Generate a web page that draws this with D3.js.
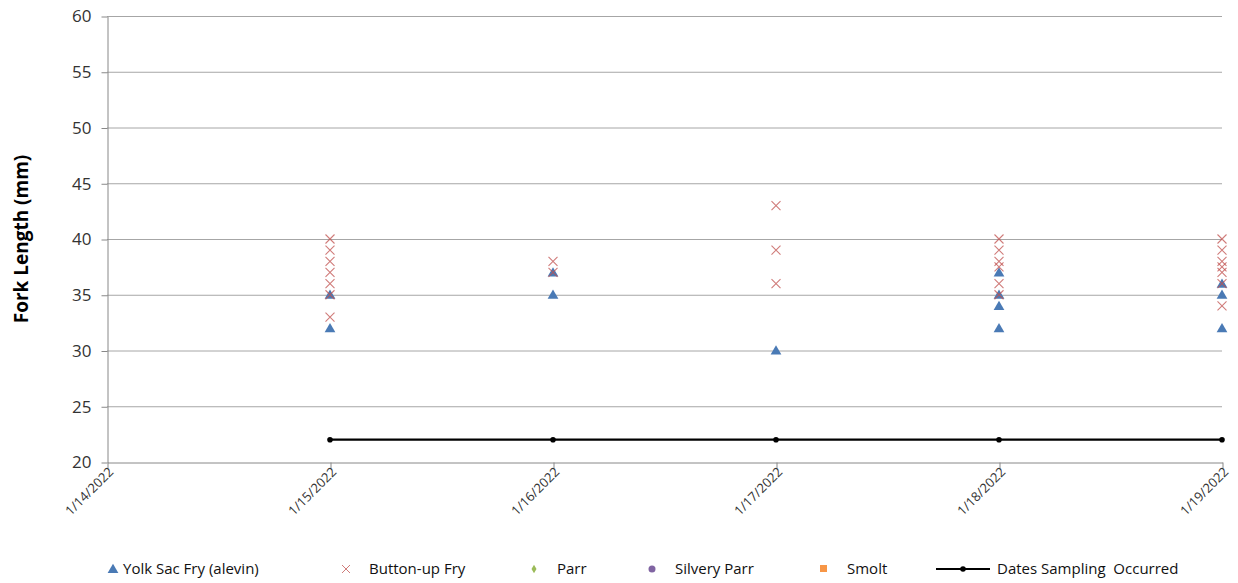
<!DOCTYPE html>
<html>
<head>
<meta charset="utf-8">
<script src="https://cdn.jsdelivr.net/npm/d3@7"></script>
<style>
  body { margin: 0; background: #fff; }
  text { font-family: "Open Sans", "DejaVu Sans", sans-serif; }
</style>
</head>
<body>
<div id="chart"></div>
<script>
// dates on the x axis
const tickDates = ["2022-01-14", "2022-01-15", "2022-01-16", "2022-01-17", "2022-01-18", "2022-01-19"];
const yTicks = [20, 25, 30, 35, 40, 45, 50, 55, 60];

// Yolk Sac Fry (alevin)
const yolkSac = [
  ["2022-01-15", 35], ["2022-01-15", 32],
  ["2022-01-16", 37], ["2022-01-16", 35],
  ["2022-01-17", 30],
  ["2022-01-18", 37], ["2022-01-18", 35], ["2022-01-18", 34], ["2022-01-18", 32],
  ["2022-01-19", 36], ["2022-01-19", 35], ["2022-01-19", 32]
];

// Button-up Fry
const buttonUp = [
  ["2022-01-15", 40], ["2022-01-15", 39], ["2022-01-15", 38], ["2022-01-15", 37],
  ["2022-01-15", 36], ["2022-01-15", 35], ["2022-01-15", 33],
  ["2022-01-16", 38], ["2022-01-16", 37],
  ["2022-01-17", 43], ["2022-01-17", 39], ["2022-01-17", 36],
  ["2022-01-18", 40], ["2022-01-18", 39], ["2022-01-18", 38], ["2022-01-18", 37.5],
  ["2022-01-18", 36], ["2022-01-18", 35],
  ["2022-01-19", 40], ["2022-01-19", 39], ["2022-01-19", 38], ["2022-01-19", 37.5],
  ["2022-01-19", 37], ["2022-01-19", 36], ["2022-01-19", 34]
];

const parr = [];
const silveryParr = [];
const smolt = [];

// Dates Sampling Occurred
const sampling = [
  ["2022-01-15", 22], ["2022-01-16", 22], ["2022-01-17", 22], ["2022-01-18", 22], ["2022-01-19", 22]
];

const W = 1238, H = 583;
const parse = d3.timeParse("%Y-%m-%d");
const fmt = d3.timeFormat("%-m/%-d/%Y");

const svg = d3.select("#chart").append("svg")
  .attr("width", W).attr("height", H);

const x = d3.scaleTime()
  .domain([parse(tickDates[0]), parse(tickDates[tickDates.length - 1])])
  .range([107, 1222]);
const y = d3.scaleLinear().domain([20, 60]).range([462, 16]);

// gridlines
svg.append("g")
  .selectAll("line")
  .data(yTicks.filter(d => d > 20))
  .enter().append("line")
  .attr("x1", 107).attr("x2", 1222)
  .attr("y1", d => y(d) + 0.5).attr("y2", d => y(d) + 0.5)
  .attr("stroke", "#a6a6a6").attr("stroke-width", 1);

// y axis
const yAxis = svg.append("g")
  .attr("transform", "translate(107.5,0.5)")
  .call(d3.axisLeft(y).tickValues(yTicks).tickSize(6).tickSizeOuter(0));
yAxis.select(".domain").attr("stroke", "#888");
yAxis.selectAll(".tick line").attr("stroke", "#888");
yAxis.selectAll(".tick text").attr("font-size", 17).attr("fill", "#333").attr("x", -16);

// x axis
const xAxis = svg.append("g")
  .attr("transform", "translate(0.5,462.5)")
  .call(d3.axisBottom(x).tickValues(tickDates.map(parse)).tickFormat(fmt).tickSize(6).tickSizeOuter(0));
xAxis.select(".domain").attr("stroke", "#888");
xAxis.selectAll(".tick line").attr("stroke", "#888");
xAxis.selectAll(".tick text")
  .attr("font-size", 13).attr("fill", "#333")
  .attr("text-anchor", "end")
  .attr("transform", "translate(3,7) rotate(-45)")
  .attr("dy", "0.35em").attr("y", 0).attr("x", 0);

// y title
svg.append("text")
  .attr("transform", `translate(28,${(16 + 462) / 2}) rotate(-90)`)
  .attr("text-anchor", "middle")
  .attr("font-size", 19).attr("font-weight", "bold").attr("fill", "#000")
  .text("Fork Length (mm)");

// sampling line
const line = d3.line().x(d => x(parse(d[0]))).y(d => y(d[1]));
svg.append("path").datum(sampling)
  .attr("d", line).attr("fill", "none")
  .attr("stroke", "#000").attr("stroke-width", 2.2);
svg.append("g").selectAll("circle").data(sampling).enter().append("circle")
  .attr("cx", d => x(parse(d[0]))).attr("cy", d => y(d[1]))
  .attr("r", 2.8).attr("fill", "#000");

const triangle = d3.symbol().type(d3.symbolTriangle).size(50);
const cross = "M-4.5,-4.5L4.5,4.5M-4.5,4.5L4.5,-4.5";

// yolk sac
svg.append("g").selectAll("path").data(yolkSac).enter().append("path")
  .attr("transform", d => `translate(${x(parse(d[0]))},${y(d[1]) + 1})`)
  .attr("d", triangle).attr("fill", "#4a7ab5");

// button-up
svg.append("g").selectAll("path").data(buttonUp).enter().append("path")
  .attr("transform", d => `translate(${x(parse(d[0]))},${y(d[1])})`)
  .attr("d", cross).attr("fill", "none")
  .attr("stroke", "#c0504d").attr("stroke-opacity", 0.75).attr("stroke-width", 1.1);

// legend
const ly = 569;
const leg = svg.append("g");
leg.append("path").attr("transform", `translate(113,${ly + 1})`).attr("d", triangle).attr("fill", "#4a7ab5");
leg.append("path").attr("transform", `translate(346,${ly})`).attr("d", "M-4,-4L4,4M-4,4L4,-4")
  .attr("stroke", "#c0504d").attr("stroke-opacity", 0.75).attr("fill", "none");
leg.append("path").attr("transform", `translate(534,${ly})`)
  .attr("d", d3.symbol().type(d3.symbolDiamond).size(22)).attr("fill", "#9bbb59");
leg.append("circle").attr("cx", 652).attr("cy", ly).attr("r", 3.5).attr("fill", "#8064a2");
leg.append("rect").attr("x", 820).attr("y", ly - 4).attr("width", 7).attr("height", 7).attr("fill", "#f79646");
leg.append("line").attr("x1", 936).attr("x2", 990).attr("y1", ly).attr("y2", ly)
  .attr("stroke", "#000").attr("stroke-width", 2);
leg.append("circle").attr("cx", 963).attr("cy", ly).attr("r", 2.8).attr("fill", "#000");

const legendItems = [
  [123, "Yolk Sac Fry (alevin)"],
  [369, "Button-up Fry"],
  [557, "Parr"],
  [675, "Silvery Parr"],
  [847, "Smolt"],
  [997, "Dates Sampling  Occurred"]
];
leg.selectAll("text.lbl").data(legendItems).enter().append("text")
  .attr("class", "lbl")
  .attr("x", d => d[0]).attr("y", ly).attr("dy", "0.35em")
  .attr("font-size", 15).attr("fill", "#111")
  .attr("xml:space", "preserve")
  .style("white-space", "pre")
  .text(d => d[1]);
</script>
</body>
</html>
